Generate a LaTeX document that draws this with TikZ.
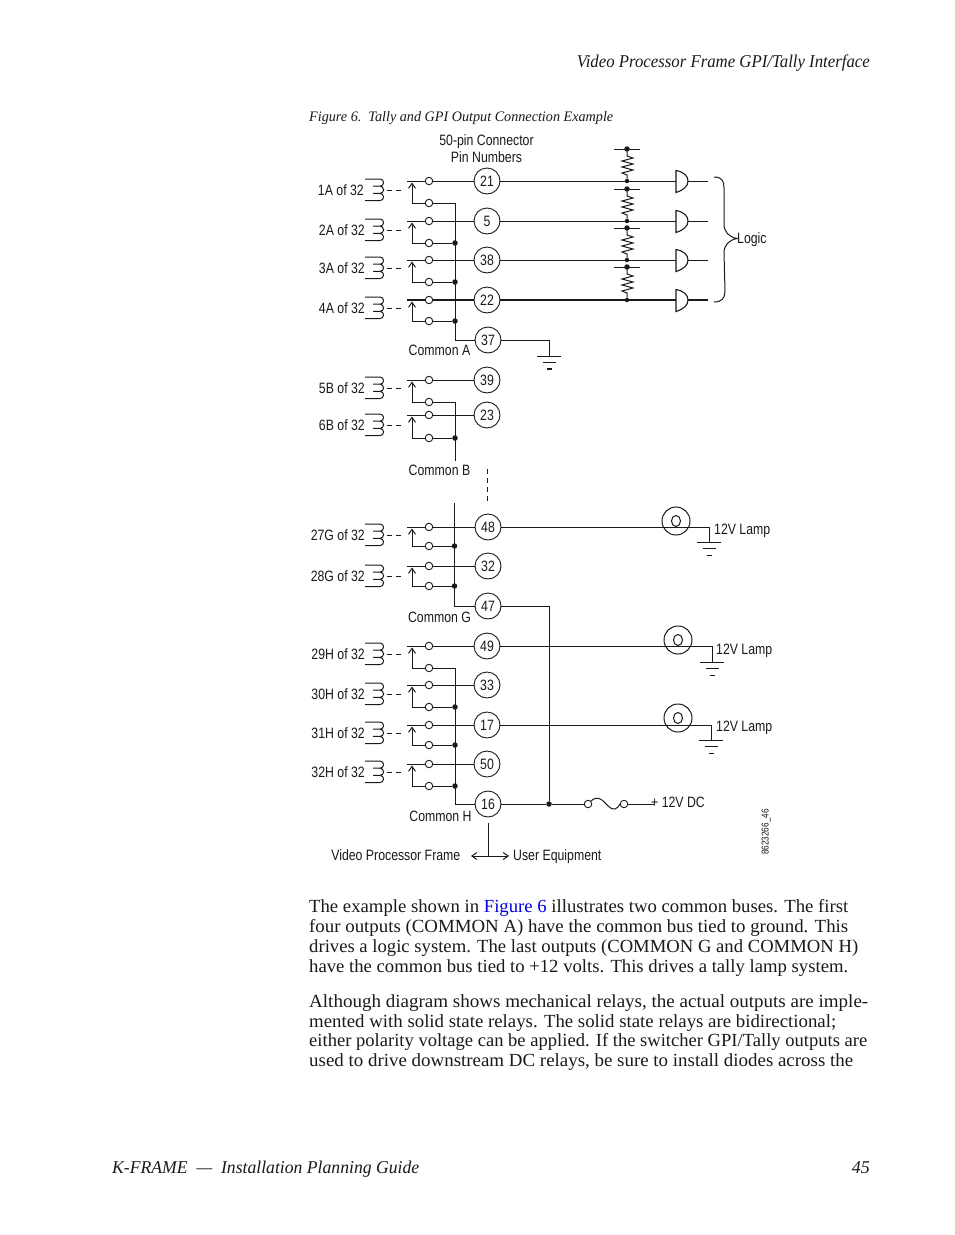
\documentclass[tikz,border=0pt]{standalone}
\usepackage{fontspec}
\usepackage{graphicx}
\usetikzlibrary{arrows.meta,shapes.geometric}
\setmainfont{Liberation Serif}
\newfontfamily\dgfont[FakeStretch=0.82]{Liberation Sans}
\definecolor{ink}{HTML}{1A1A1A}
\definecolor{linkblue}{HTML}{0000E0}
% fits a line of text to a measured width, keeping its height
\newcommand{\fitw}[2]{\resizebox{#1pt}{\height}{#2}}
\tikzset{
  wire/.style={line width=1pt,draw=ink},
  heavy/.style={line width=1.8pt,draw=ink},
  pin/.style={circle,draw=ink,line width=0.9pt,fill=white,minimum size=26pt,inner sep=0pt,font=\dgfont\fontsize{15}{16}\selectfont,text=ink,text height=10.5pt,text depth=0pt},
  contact/.style={circle,draw=ink,line width=0.9pt,fill=white,minimum size=7.5pt,inner sep=0pt},
  dotn/.style={circle,fill=ink,minimum size=5.5pt,inner sep=0pt},
  lbl/.style={inner sep=0pt,font=\dgfont\fontsize{15}{16}\selectfont,text=ink,text height=10.5pt,text depth=0pt},
  body/.style={inner sep=0pt,anchor=base west,font=\fontsize{18.5}{20}\selectfont,text=ink},
  ital/.style={inner sep=0pt,font=\itshape\fontsize{18}{20}\selectfont,text=ink},
  lampc/.style={circle,draw=ink,line width=1pt,minimum size=28pt,inner sep=0pt},
  lampi/.style={ellipse,draw=ink,line width=1pt,minimum width=9pt,minimum height=11pt,inner sep=0pt},
  barb/.style={-{Straight Barb[length=5pt,width=7pt]}},
  barbs/.style={{Straight Barb[length=5pt,width=7pt]}-{Straight Barb[length=5pt,width=7pt]}},
}
% id, label, label right end, top y, low y, label y, target pin
\newcommand{\relay}[7]{%
  \node[lbl,anchor=east] (#1l) at (#3,#6-1) {#2};
  \node[contact] (#1t) at (429,#4) {};
  \node[contact] (#1b) at (429,#5) {};
  \coordinate (#1s) at (407,#4);
  \coordinate (#1h) at (412,#4+1.5);
  \draw[wire] (365,#6-12) -- (380,#6-12) arc[start angle=-90,end angle=90,radius=3.6] -- (373,#6-4.8)
     (380,#6-4.8) arc[start angle=-90,end angle=90,radius=3.6] -- (373,#6+2.4)
     (380,#6+2.4) arc[start angle=-90,end angle=90,radius=3.6] -- (365,#6+9.6);
  \draw[wire,dashed,dash pattern=on 5pt off 4pt] (387,#6-1) -- (402,#6-1);
  \draw[wire,barb] (#1b) -| (#1h);
  \draw[wire] (#1s) -- (#1t) -- (#7);
}
\newcommand{\gnd}[3]{% name, x, y
  \coordinate (#1) at (#2,#3);
  \draw[wire] (#2-12,#3) -- (#2+12,#3) (#2-6.5,#3+6.5) -- (#2+6.5,#3+6.5) (#2-2.5,#3+13) -- (#2+2.5,#3+13);
}
\newcommand{\gate}[2]{%
  \coordinate (#1) at (676,#2);
  \coordinate (#1o) at (688,#2);
  \draw[wire,line width=1.1pt] (676,#2-10.5) .. controls (684,#2-9) and (688,#2-5) .. (688,#2)
     .. controls (688,#2+5) and (684,#2+9) .. (676,#2+11.5) -- cycle;
}
\newcommand{\resist}[4]{% bar dot name, low dot name, bar y, low y
  \node[dotn] (#1) at (627,#3) {};
  \node[dotn,minimum size=4.5pt] (#2) at (627,#4) {};
  \draw[wire] (614,#3) -- (640,#3);
  \draw[wire] (#1) -- (627,#3+7) -- (633,#3+9) -- (622,#3+12) -- (633,#3+15) -- (622,#3+18) -- (633,#3+21) -- (622,#3+24) -- (627,#3+26) -- (#2);
}
\begin{document}
\begin{tikzpicture}[x=1pt,y=-1pt]
\useasboundingbox (0,0) rectangle (954,1235);
\fill[white] (0,0) rectangle (954,1235);

% header / caption
\node[ital,anchor=base east] (hd) at (870,67) {\fitw{293}{Video Processor Frame GPI/Tally Interface}};
\node[ital,anchor=base west,font=\itshape\fontsize{14.5}{16}\selectfont] (cap) at (309,121) {\fitw{304}{Figure 6.\ \ Tally and GPI Output Connection Example}};

\node[lbl] (conn) at (486.5,140.5) {50-pin Connector};
\node[lbl] (conn2) at (486.5,157) {Pin Numbers};

% pins
\foreach \n/\x/\y in {21/487/181,5/487/221,38/487/260,22/487/300,37/488/340,39/487/380,23/487/415,48/488/527,32/488/566,47/488/606,49/487/646,33/487/685,17/487/725,50/487/764,16/488/804}
  \node[pin] (p\n) at (\x,\y) {\n};

% common bus dots
\node[dotn] (dA2) at (455,243) {};
\node[dotn] (dA3) at (455,282) {};
\node[dotn] (dA4) at (455,321) {};
\node[dotn] (dB2) at (455,438) {};
\node[dotn] (dG1) at (454.5,546) {};
\node[dotn] (dG2) at (454.5,586) {};
\node[dotn] (dH2) at (455,707) {};
\node[dotn] (dH3) at (455,745) {};
\node[dotn] (dH4) at (455,786) {};

% relays
\relay{a}{1A of 32}{364}{181}{203}{191}{p21}
\relay{b}{2A of 32}{365}{221}{243}{231}{p5}
\relay{c}{3A of 32}{365}{260}{282}{269}{p38}
\relay{e}{5B of 32}{365}{380}{402}{389}{p39}
\relay{f}{6B of 32}{365}{415}{438}{426}{p23}
\relay{g}{27G of 32}{365}{527}{546}{536}{p48}
\relay{i}{28G of 32}{365}{566}{586}{577}{p32}
\relay{j}{29H of 32}{365}{646}{668}{655}{p49}
\relay{k}{30H of 32}{365}{685}{707}{695}{p33}
\relay{m}{31H of 32}{365}{725}{745}{734}{p17}
\relay{n}{32H of 32}{365}{764}{786}{773}{p50}
\relay{d}{4A of 32}{365}{300}{321}{309}{p22}
\draw[heavy] (ds) -- (dt) (dt) -- (p22);

% buses
\coordinate (busAtop) at (455,203);
\coordinate (busAbot) at (455,340);
\draw[wire] (ab) -- (busAtop) -- (busAbot) -- (p37);
\draw[wire] (bb) -- (dA2) (cb) -- (dA3) (db) -- (dA4);
\coordinate (busBtop) at (455,402);
\coordinate (busBbot) at (455,461);
\draw[wire] (eb) -- (busBtop) -- (busBbot);
\draw[wire] (fb) -- (dB2);
\coordinate (busGtop) at (454.5,503);
\coordinate (busGbot) at (454.5,606);
\draw[wire] (busGtop) -- (busGbot) -- (p47);
\draw[wire] (gb) -- (dG1) (ib) -- (dG2);
\coordinate (busHtop) at (455,668);
\coordinate (busHbot) at (455,804);
\draw[wire] (jb) -- (busHtop) -- (busHbot) -- (p16);
\draw[wire] (kb) -- (dH2) (mb) -- (dH3) (nb) -- (dH4);

\node[lbl] (ca) at (439.5,350) {Common A};
\node[lbl] (cb2) at (439.5,470) {Common B};
\node[lbl] (cg) at (439.5,617) {Common G};
\node[lbl] (ch) at (440.5,816) {Common H};

% break between B and G
\coordinate (brk1) at (487,469);
\coordinate (brk2) at (487,505);
\draw[wire,dashed,dash pattern=on 5pt off 4pt] (brk1) -- (brk2);

% resistors and gates
\resist{r1}{s1}{149}{181}
\resist{r2}{s2}{189}{221}
\resist{r3}{s3}{228}{260}
\resist{r4}{s4}{267}{300}
\gate{g1}{181}
\gate{g2}{221}
\gate{g3}{260}
\gate{g4}{300}
\coordinate (o1) at (708,181);
\coordinate (o2) at (708,221);
\coordinate (o3) at (708,260);
\coordinate (o4) at (708,300);
\draw[wire] (p21) -- (s1) -- (g1) (g1o) -- (o1);
\draw[wire] (p5) -- (s2) -- (g2) (g2o) -- (o2);
\draw[wire] (p38) -- (s3) -- (g3) (g3o) -- (o3);
\draw[heavy] (p22) -- (s4) -- (g4) (g4o) -- (o4);

% logic brace
\coordinate (tip) at (737,238.5);
\draw[wire] (714,177) .. controls (722,177) and (724,181) .. (724,188) -- (724,224)
   .. controls (724,232) and (729,237) .. (tip)
   .. controls (729,240) and (724,245) .. (724,253) -- (725,291)
   .. controls (725,298) and (722,302) .. (714,302);
\node[lbl,anchor=west] (logic) at (tip) {Logic};

% ground on pin 37
\gnd{ga}{549}{356}
\draw[wire] (p37) -| (ga);
\fill[ink] (547,368) rectangle (552,370);

% lamps
\node[lampc] (l1) at (676,521) {};
\node[lampi] (l1i) at (676,521) {};
\coordinate (l1e) at (709,527);
\gnd{gl1}{709}{542}
\draw[wire] (p48) -- (l1e) -- (gl1);
\node[lbl,anchor=west] (t1) at (714,529) {12V Lamp};

\node[lampc] (l2) at (678,640) {};
\node[lampi] (l2i) at (678,640) {};
\coordinate (l2e) at (712,646);
\gnd{gl2}{712}{662}
\draw[wire] (p49) -- (l2e) -- (gl2);
\node[lbl,anchor=west] (t2) at (716,649) {12V Lamp};

\node[lampc] (l3) at (678,718) {};
\node[lampi] (l3i) at (678,718) {};
\coordinate (l3e) at (711,725);
\gnd{gl3}{711}{740}
\draw[wire] (p17) -- (l3e) -- (gl3);
\node[lbl,anchor=west] (t3) at (716,726) {12V Lamp};

% 12 V feed
\node[dotn] (feed) at (549,804) {};
\node[contact] (f1) at (588,804) {};
\node[contact] (f2) at (624,804) {};
\coordinate (dc) at (654,804);
\draw[wire] (p47) -| (feed);
\draw[wire] (p16) -- (feed) -- (f1);
\draw[wire] (f1.north east) .. controls (594,798) and (598,797) .. (602,800)
   .. controls (607,804) and (610,810) .. (615,809) .. controls (618,808) and (619,806) .. (f2.west);
\draw[wire] (f2) -- (dc);
\node[lbl,anchor=west] (dct) at (651,802) {+ 12V DC};

% frame boundary
\coordinate (bt) at (488,823);
\coordinate (bb1) at (488,856);
\coordinate (al) at (471,856);
\coordinate (ar) at (509,856);
\draw[wire] (bt) -- (bb1);
\draw[wire,barbs] (al) -- (ar);
\node[lbl,anchor=east] (vpf) at (460.5,855) {Video Processor Frame};
\node[lbl,anchor=west] (ue) at (513,855) {User Equipment};
\node[lbl,font=\dgfont\fontsize{10}{11}\selectfont,text height=7pt,rotate=90] (code) at (765,832) {8623266\_46};

% body text
\node[body] (t11) at (309,912) {\fitw{539}{The example shown in \textcolor{linkblue}{Figure 6} illustrates two common buses. The first}};
\node[body] (t12) at (309,932) {\fitw{539}{four outputs (COMMON A) have the common bus tied to ground. This}};
\node[body] (t13) at (309,952) {\fitw{549}{drives a logic system. The last outputs (COMMON G and COMMON H)}};
\node[body] (t14) at (309,972) {\fitw{539}{have the common bus tied to +12 volts. This drives a tally lamp system.}};
\node[body] (t21) at (309,1007) {\fitw{559}{Although diagram shows mechanical relays, the actual outputs are imple-}};
\node[body] (t22) at (309,1027) {\fitw{527}{mented with solid state relays. The solid state relays are bidirectional;}};
\node[body] (t23) at (309,1046) {\fitw{558}{either polarity voltage can be applied. If the switcher GPI/Tally outputs are}};
\node[body] (t24) at (309,1066) {\fitw{544}{used to drive downstream DC relays, be sure to install diodes across the}};

% footer
\node[ital,anchor=base west] (ft) at (112,1173) {\fitw{307}{K-FRAME\ \ —\ \ Installation Planning Guide}};
\node[ital,anchor=base east] (pg) at (870,1173) {45};
\end{tikzpicture}
\end{document}
